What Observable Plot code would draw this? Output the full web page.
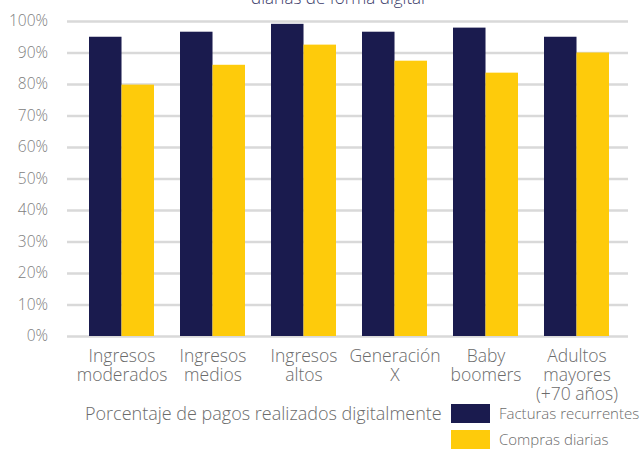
<!DOCTYPE html>
<html>
<head>
<meta charset="utf-8">
<script src="https://cdn.jsdelivr.net/npm/d3@7"></script>
<script src="https://cdn.jsdelivr.net/npm/@observablehq/plot@0.6"></script>
<style>
  body { margin: 0; background: #fff; }
  #wrap { position: relative; width: 643px; height: 449px; overflow: hidden; font-family: "Open Sans", sans-serif; font-weight: 300; }
  #title { position: absolute; top: -12px; left: 0; width: 676px; text-align: center; font-size: 17px; line-height: 20px; color: #3d3d6b; white-space: nowrap; }
  #chart svg { display: block; }
  #legend { position: relative; width: 643px; height: 41px; color: #6b6b6b; font-size: 15px; line-height: 18px; }
  #legend .t { position: absolute; white-space: nowrap; }
  #legend .big { font-size: 18px; }
  #legend .sw { position: absolute; left: 451px; width: 39px; height: 18.5px; }
</style>
</head>
<body>
<div id="wrap">
  <div id="title"></div>
  <div id="chart"></div>
  <div id="legend"></div>
</div>
<script>
// Chart text
const titleText = "diarias de forma digital";
const legendTitle = "Porcentaje de pagos realizados digitalmente";

// Categories and their multi-line axis labels
const categories = ["Ingresos moderados", "Ingresos medios", "Ingresos altos", "Generación X", "Baby boomers", "Adultos mayores (+70 años)"];
const tickLabels = ["Ingresos\nmoderados", "Ingresos\nmedios", "Ingresos\naltos", "Generación\nX", "Baby\nboomers", "Adultos\nmayores\n(+70 años)"];

// Series (percent of payments made digitally)
const seriesNames = ["Facturas recurrentes", "Compras diarias"];
const seriesColors = ["#1a1b4e", "#fecb0b"];
const facturas = [95.0, 96.6, 99.1, 96.6, 97.9, 95.0];
const compras = [79.8, 86.1, 92.5, 87.4, 83.6, 90.0];

// Y axis ticks
const yTicks = [0, 10, 20, 30, 40, 50, 60, 70, 80, 90, 100];

const rows = categories.map((c, i) => ({category: c, facturas: facturas[i], compras: compras[i]}));

// Layout
const W = 643, H = 408;
const mL = 67, mR = 15, inL = 9, inR = 6;
const padInner = 0.286, padOuter = padInner / 2;
const step = (W - mL - mR - inL - inR) / categories.length;
const half = step * (1 - padInner) / 2;

document.getElementById("title").textContent = titleText;

const chart = Plot.plot({
  width: W,
  height: H,
  marginTop: 21,
  marginBottom: H - 336,
  marginLeft: mL,
  marginRight: mR,
  style: {fontFamily: "'Open Sans', sans-serif", fontWeight: 300, background: "transparent", overflow: "visible"},
  x: {domain: categories, paddingInner: padInner, paddingOuter: padOuter, insetLeft: inL, insetRight: inR, axis: null},
  y: {domain: [0, 100], axis: null},
  marks: [
    Plot.gridY(yTicks, {stroke: "#d9d9d9", strokeOpacity: 1, strokeWidth: 2.5}),
    Plot.barY(rows, {x: "category", y: "facturas", fill: seriesColors[0], insetRight: half}),
    Plot.barY(rows, {x: "category", y: "compras", fill: seriesColors[1], insetLeft: half}),
    Plot.axisY(yTicks, {
      tickSize: 0, tickPadding: 19.5, label: null,
      tickFormat: d => d + "%",
      fontSize: 15.5, fontWeight: 300, color: "#808080"
    }),
    Plot.axisX({
      tickSize: 0, tickPadding: 12.5, label: null,
      tickFormat: d => tickLabels[categories.indexOf(d)],
      fontSize: 17.5, fontWeight: 300, lineHeight: 1.08, color: "#6b6b6b"
    })
  ]
});
document.getElementById("chart").appendChild(chart);

// Legend below the chart (offsets relative to the bottom of the SVG)
const legend = document.getElementById("legend");
const addText = (txt, left, top, cls) => {
  const el = document.createElement("div");
  el.className = "t" + (cls ? " " + cls : "");
  el.textContent = txt;
  el.style.left = left + "px";
  el.style.top = top + "px";
  legend.appendChild(el);
};
const base = 402 - H;
addText(legendTitle, 85, base + 1.5, "big");
seriesNames.forEach((name, i) => {
  const sw = document.createElement("div");
  sw.className = "sw";
  sw.style.top = (base + 2 + i * 26) + "px";
  sw.style.background = seriesColors[i];
  legend.appendChild(sw);
  addText(name, 499, base + 2.2 + i * 26);
});
</script>
</body>
</html>
